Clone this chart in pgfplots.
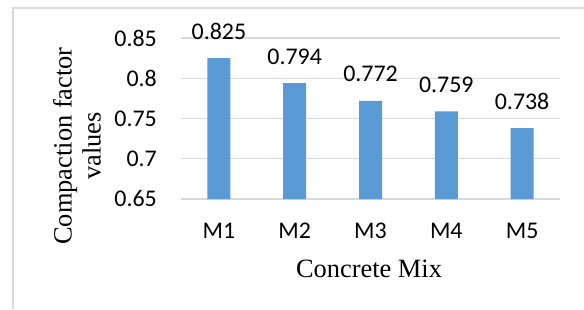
\documentclass[border=0pt]{standalone}
\usepackage{pgfplots}
\pgfplotsset{compat=1.18}
\usepackage{fontspec}
\setmainfont{Carlito}
\newfontfamily\timesf{Liberation Serif}
\definecolor{barblue}{HTML}{5B9BD5}
\definecolor{gridgray}{HTML}{D9D9D9}
\begin{document}
\begin{tikzpicture}[x=1bp,y=1bp]
\useasboundingbox (0,0) rectangle (584,309);
\draw[gridgray, line width=1.2bp] (13,0) -- (13,301) -- (584,301);
\begin{axis}[
  at={(181bp,110bp)}, anchor=south west,
  scale only axis, width=379bp, height=161bp,
  xmin=-0.5, xmax=4.5, ymin=0.65, ymax=0.85,
  ytick={0.65,0.7,0.75,0.8,0.85},
  yticklabels={0.65,0.7,0.75,0.8,0.85},
  xtick={0,1,2,3,4},
  xticklabels={M1,M2,M3,M4,M5},
  axis line style={draw=none},
  major tick length=0pt,
  ymajorgrids, grid style={gridgray, line width=1.2bp},
  tick label style={font=\fontsize{24}{28}\selectfont, inner sep=0pt},
  yticklabel style={anchor=east},
  yticklabel shift=24bp,
  xticklabel style={anchor=base},
  xticklabel shift=39bp,
  clip=false,
  nodes near coords,
  every node near coord/.append style={font=\fontsize{24}{28}\selectfont, anchor=base, inner sep=0pt, yshift=19bp, /pgf/number format/.cd, fixed, precision=3, assume math mode=true},
]
\addplot[ybar, bar width=23bp, fill=barblue, draw=none] coordinates {
 (0,0.825) (1,0.794) (2,0.772) (3,0.759) (4,0.738)
};
\end{axis}
\node[font=\timesf\fontsize{26.5}{29}\selectfont, rotate=90, align=center, inner sep=0pt, anchor=center] at (77,163) {Compaction factor\\values};
\node[font=\timesf\fontsize{26.5}{29}\selectfont, inner sep=0pt, anchor=base] at (369,31.3) {Concrete Mix};
\end{tikzpicture}
\end{document}
